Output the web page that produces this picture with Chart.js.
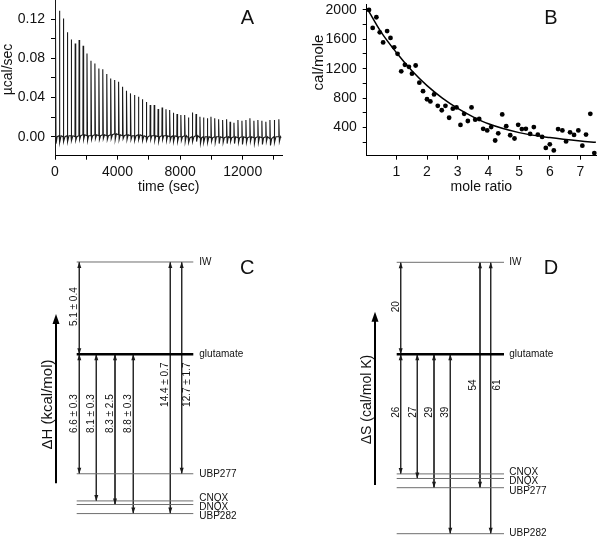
<!DOCTYPE html>
<html><head><meta charset="utf-8">
<script src="https://cdn.jsdelivr.net/npm/chart.js@4.4.1/dist/chart.umd.min.js"></script>
<style>
html,body{margin:0;padding:0;background:#fff;width:600px;height:537px;overflow:hidden;position:relative}
canvas{position:absolute;display:block}
</style></head><body>
<canvas id="cA" width="300" height="200" style="left:0;top:0;width:300px;height:200px"></canvas>
<canvas id="cB" width="300" height="200" style="left:300px;top:0;width:300px;height:200px"></canvas>
<canvas id="cC" width="300" height="297" style="left:0;top:240px;width:300px;height:297px"></canvas>
<canvas id="cD" width="300" height="297" style="left:300px;top:240px;width:300px;height:297px"></canvas>
<script>
// ---------------- Panel A : raw ITC trace ----------------
const aTraceStartValue = -0.019;
const aTraceEndTime = 14450;
const aTraceEndValue = -0.001;
const injTimes = [30,280,530,785,1035,1290,1540,1795,2045,2300,
  2550,2805,3055,3310,3560,3815,4065,4320,4570,4825,
  5075,5330,5580,5835,6085,6340,6590,6845,7095,7330,
  7560,7800,8045,8290,8525,8775,9015,9265,9490,9735,
  9970,10210,10460,10715,10970,11190,11440,11695,11950,12205,
  12460,12715,12970,13225,13480,13740,14015,14310];
const injPeaks = [0.140,0.1286,0.1207,0.1065,0.0993,0.0952,0.0986,0.0929,0.0850,0.0776,
  0.0748,0.0697,0.0687,0.0639,0.0595,0.0578,0.0561,0.0510,0.0469,0.0442,
  0.0425,0.0408,0.0381,0.0354,0.0323,0.0323,0.0282,0.0299,0.0279,0.0272,
  0.0245,0.0231,0.0221,0.0221,0.0197,0.0248,0.0231,0.0204,0.0197,0.0187,
  0.0204,0.0187,0.0177,0.0170,0.0177,0.0153,0.0143,0.0170,0.0163,0.0170,
  0.0187,0.0163,0.0170,0.0163,0.0153,0.0170,0.0170,0.0177];
const injTroughs = [-0.007,-0.006,-0.005,-0.005,-0.004,-0.004,-0.003,-0.003,-0.004,-0.003,
  -0.002,-0.003,-0.002,-0.003,-0.002,-0.003,-0.003,-0.002,-0.003,-0.003,
  -0.004,-0.003,-0.004,-0.004,-0.003,-0.004,-0.005,-0.003,-0.004,-0.004,
  -0.005,-0.005,-0.004,-0.005,-0.006,-0.005,-0.005,-0.007,-0.006,-0.006,
  -0.005,-0.006,-0.007,-0.006,-0.007,-0.005,-0.007,-0.006,-0.008,-0.006,
  -0.005,-0.007,-0.006,-0.008,-0.005,-0.009,-0.006,-0.005];
const injBaseline = [0.000,0.001,0.000,0.001,0.001,0.000,0.001,0.002,0.001,0.001,
  0.002,0.001,0.002,0.001,0.002,0.003,0.002,0.001,0.002,0.001,
  0.001,0.002,0.001,0.000,0.001,0.001,0.000,0.001,0.001,0.000,
  0.001,0.000,0.000,0.001,-0.001,0.000,0.001,-0.001,0.000,0.000,
  -0.001,0.000,0.000,-0.001,0.000,-0.001,0.000,-0.001,0.000,-0.001,
  0.000,-0.001,0.000,-0.001,0.000,-0.002,0.000,0.000];
const aXTicks = [0,2000,4000,6000,8000,10000,12000,14000];
const aXTickLabels = ['0','','4000','','8000','','12000',''];
const aYTicks = [0,0.02,0.04,0.06,0.08,0.10,0.12];
const aYTickLabels = ['0.00','','0.04','','0.08','','0.12'];

// ---------------- Panel B : integrated heats ----------------
const bMoleRatio = [0.11,0.23,0.35,0.46,0.57,0.70,0.81,0.93,1.04,1.16,
  1.28,1.41,1.51,1.63,1.75,1.87,2.00,2.11,2.23,2.35,
  2.48,2.60,2.72,2.84,2.96,3.09,3.21,3.33,3.45,3.57,
  3.70,3.83,3.96,4.09,4.22,4.32,4.45,4.58,4.71,4.85,
  4.97,5.09,5.22,5.36,5.48,5.61,5.75,5.87,6.00,6.13,
  6.27,6.41,6.53,6.66,6.79,6.93,7.06,7.18,7.32,7.45];
const bHeat = [2000,1755,1900,1694,1557,1711,1619,1490,1402,1164,
  1252,1225,1132,1243,1009,894,784,754,850,695,
  634,695,532,656,673,435,585,488,673,506,
  515,382,360,405,223,321,577,418,294,250,
  436,378,382,312,405,303,272,122,171,87,
  378,360,210,334,299,360,152,303,585,52];
const bFitX = [0.09,0.5,1,1.5,2,2.5,3,3.5,4,5,6,7,7.5];
const bFitY = [1990,1700,1420,1175,970,800,660,545,450,330,262,215,198];
const bXTicks = [1,2,3,4,5,6,7];
const bXTickLabels = ['1','2','3','4','5','6','7'];
const bYTicks = [200,400,600,800,1000,1200,1400,1600,1800,2000];
const bYTickLabels = ['','400','','800','','1200','','1600','','2000'];

// ---------------- Panel C : enthalpy levels (kcal/mol) ----------------
const cLevelNames = ['IW','glutamate','UBP277','CNQX','DNQX','UBP282'];
const cLevelValues = [5.1,0,-6.6,-8.1,-8.3,-8.8];
const cArrowFrom = ['IW','glutamate','glutamate','glutamate','glutamate','IW','IW'];
const cArrowTo = ['glutamate','UBP277','CNQX','DNQX','UBP282','UBP282','UBP277'];
const cArrowLabels = ['5.1 ± 0.4','6.6 ± 0.3','8.1 ± 0.3','8.3 ± 2.5','8.8 ± 0.3','14.4 ± 0.7','12.7 ± 1.7'];

// ---------------- Panel D : entropy levels (cal/mol K) ----------------
const dLevelNames = ['IW','glutamate','CNQX','DNQX','UBP277','UBP282'];
const dLevelValues = [20,0,-26,-27,-29,-39];
const dArrowFrom = ['IW','glutamate','glutamate','glutamate','glutamate','IW','IW'];
const dArrowTo = ['glutamate','CNQX','DNQX','UBP277','UBP282','UBP277','UBP282'];
const dArrowLabels = ['20','26','27','29','39','54','61'];

// ---------------- layout / style ----------------
const FONT = "'Liberation Sans', Arial, Helvetica, sans-serif";
const TXT = '#111';
Chart.defaults.font.family = FONT;
Chart.defaults.color = TXT;

function fixW(w){ return s => { s.width = w; s.paddingTop = 0; s.paddingBottom = 0; s.paddingLeft = 0; s.paddingRight = 0; }; }
function fixH(h){ return s => { s.height = h; s.paddingTop = 0; s.paddingBottom = 0; s.paddingLeft = 0; s.paddingRight = 0; }; }
function setTicks(vals){ return s => { s.ticks = vals.map(v => ({value: v})); }; }

function axisCfg(o){
  return {
    type: 'linear', min: o.min, max: o.max,
    afterBuildTicks: setTicks(o.ticks),
    afterFit: o.w ? fixW(o.w) : fixH(o.h),
    border: {display: true, color: '#000', width: 1},
    grid: {display: true, drawOnChartArea: false, drawTicks: true, tickLength: 4, color: '#000', lineWidth: 1},
    ticks: {autoSkip: false, maxRotation: 0, padding: o.pad, color: TXT, font: {size: 14, family: FONT},
            callback: (v, i) => o.labels[i]},
    title: o.title ? {display: true, text: o.title, color: TXT, font: {size: 14, family: FONT}, padding: {top: 0, bottom: o.titlePad}} : {display: false}
  };
}

function textPlugin(items){
  return { id: 'txt' + Math.random().toString(36).slice(2), afterDraw(chart){
    const ctx = chart.ctx;
    items.forEach(t => {
      ctx.save();
      ctx.fillStyle = TXT;
      ctx.font = t.size + 'px ' + FONT;
      ctx.textAlign = 'center';
      ctx.textBaseline = t.base || 'middle';
      ctx.translate(t.x, t.y);
      if (t.rot) ctx.rotate(t.rot);
      ctx.fillText(t.text, 0, 0);
      ctx.restore();
    });
  }};
}

// ---- Chart A ----
const traceA = [{x: 0, y: aTraceStartValue}];
injTimes.forEach((t, i) => {
  traceA.push({x: t - 12, y: injBaseline[i]});
  traceA.push({x: t, y: injPeaks[i]});
  traceA.push({x: t + 35, y: injTroughs[i]});
  traceA.push({x: t + 110, y: injBaseline[i]});
});
traceA.push({x: aTraceEndTime, y: aTraceEndValue});

new Chart(document.getElementById('cA'), {
  type: 'scatter',
  data: {datasets: [{data: traceA, showLine: true, borderColor: '#1a1a1a', borderWidth: 1.1, pointRadius: 0, tension: 0}]},
  options: {
    responsive: false, animation: false, devicePixelRatio: 1,
    layout: {padding: {left: 0, top: 0, right: 17.4, bottom: 0}},
    plugins: {legend: {display: false}, tooltip: {enabled: false}},
    scales: {
      x: axisCfg({min: 0, max: 14550, ticks: aXTicks, labels: aXTickLabels, h: 44.3, pad: 4, title: 'time (sec)', titlePad: 4.9}),
      y: axisCfg({min: -0.0194, max: 0.1395, ticks: aYTicks, labels: aYTickLabels, w: 55, pad: 6})
    }
  },
  plugins: [textPlugin([
    {text: 'µcal/sec', x: 8.5, y: 69.5, size: 14, rot: -Math.PI/2},
    {text: 'A', x: 247.5, y: 23.5, size: 20, base: 'alphabetic'}
  ])]
});

// ---- Chart B ----
new Chart(document.getElementById('cB'), {
  type: 'scatter',
  data: {datasets: [
    {data: bMoleRatio.map((x, i) => ({x, y: bHeat[i]})), pointRadius: 2.4, pointBackgroundColor: '#000', pointBorderWidth: 0, showLine: false, clip: false},
    {data: bFitX.map((x, i) => ({x, y: bFitY[i]})), showLine: true, borderColor: '#000', borderWidth: 1.5, pointRadius: 0, cubicInterpolationMode: 'monotone'}
  ]},
  options: {
    responsive: false, animation: false, devicePixelRatio: 1,
    layout: {padding: {left: 0, top: 0, right: 1, bottom: 0}},
    plugins: {legend: {display: false}, tooltip: {enabled: false}},
    scales: {
      x: axisCfg({min: 0.035, max: 7.505, ticks: bXTicks, labels: bXTickLabels, h: 44.3, pad: 4, title: 'mole ratio', titlePad: 4.9}),
      y: axisCfg({min: 15.9, max: 2080, ticks: bYTicks, labels: bYTickLabels, w: 66.7, pad: 6})
    }
  },
  plugins: [textPlugin([
    {text: 'cal/mole', x: 18.7, y: 62.5, size: 15, rot: -Math.PI/2},
    {text: 'B', x: 251, y: 23.5, size: 20, base: 'alphabetic'}
  ])]
});

// ---- Level diagrams C & D ----
function levelChart(id, names, values, from, to, labels, L){
  const idx = n => names.indexOf(n);
  const datasets = [];
  names.forEach((n, i) => {
    datasets.push({data: [{x: L.lineX[0], y: values[i]}, {x: L.lineX[1], y: values[i]}],
      showLine: true, pointRadius: 0, borderColor: n === 'glutamate' ? '#000' : '#6e6e6e', borderWidth: n === 'glutamate' ? 2.5 : 1});
  });
  from.forEach((f, k) => {
    datasets.push({data: [{x: L.arrowX[k], y: values[idx(f)]}, {x: L.arrowX[k], y: values[idx(to[k])]}],
      showLine: true, pointRadius: 0, borderColor: '#2a2a2a', borderWidth: 1});
  });
  const plugin = {id: 'lv' + id, afterDatasetsDraw(chart){
    const ctx = chart.ctx, xs = chart.scales.x, ys = chart.scales.y;
    ctx.save();
    ctx.fillStyle = '#1a1a1a';
    // arrowheads
    from.forEach((f, k) => {
      const x = xs.getPixelForValue(L.arrowX[k]);
      const y1 = ys.getPixelForValue(values[idx(f)]);
      const y2 = ys.getPixelForValue(values[idx(to[k])]);
      [[y1, y2], [y2, y1]].forEach(([tip, other]) => {
        const dir = tip < other ? -1 : 1;
        ctx.beginPath();
        ctx.moveTo(x, tip);
        ctx.lineTo(x - 2, tip - dir * 6);
        ctx.lineTo(x + 2, tip - dir * 6);
        ctx.closePath();
        ctx.fill();
      });
    });
    // arrow labels
    ctx.fillStyle = TXT;
    ctx.font = '10px ' + FONT;
    ctx.textAlign = 'center';
    ctx.textBaseline = 'middle';
    labels.forEach((t, k) => {
      const x = xs.getPixelForValue(L.arrowX[k]) + L.labelDx[k];
      const y = ys.getPixelForValue(L.labelY[k]);
      ctx.save(); ctx.translate(x, y); ctx.rotate(-Math.PI/2); ctx.fillText(t, 0, 0); ctx.restore();
    });
    // level names
    ctx.textAlign = 'left';
    names.forEach((n, i) => {
      ctx.fillText(n, xs.getPixelForValue(L.nameX), ys.getPixelForValue(values[i]) + L.nameDy[i]);
    });
    // axis arrow
    ctx.strokeStyle = '#000'; ctx.fillStyle = '#000'; ctx.lineWidth = 2;
    ctx.beginPath(); ctx.moveTo(L.axX, L.axY0); ctx.lineTo(L.axX, L.axY1 + 8); ctx.stroke();
    ctx.beginPath(); ctx.moveTo(L.axX, L.axY1); ctx.lineTo(L.axX - 3.5, L.axY1 + 10); ctx.lineTo(L.axX + 3.5, L.axY1 + 10); ctx.closePath(); ctx.fill();
    ctx.fillStyle = TXT;
    ctx.textAlign = 'center';
    ctx.font = L.titleSize + 'px ' + FONT;
    ctx.save(); ctx.translate(L.titleX, L.titleY); ctx.rotate(-Math.PI/2); ctx.fillText(L.title, 0, 0); ctx.restore();
    ctx.font = '20px ' + FONT;
    ctx.textBaseline = 'alphabetic';
    ctx.fillText(L.letter, L.letterX, L.letterY);
    ctx.restore();
  }};
  new Chart(document.getElementById(id), {
    type: 'scatter',
    data: {datasets},
    options: {
      responsive: false, animation: false, devicePixelRatio: 1,
      layout: {padding: 0},
      plugins: {legend: {display: false}, tooltip: {enabled: false}},
      scales: {
        x: {type: 'linear', display: false, min: 0, max: 300},
        y: {type: 'linear', display: false, min: L.yMin, max: L.yMax}
      }
    },
    plugins: [plugin]
  });
}

levelChart('cC', cLevelNames, cLevelValues, cArrowFrom, cArrowTo, cArrowLabels, {
  yMin: -10.094, yMax: 6.315,
  lineX: [76.7, 193.3], nameX: 199.3,
  nameDy: [0, 0, 0, -2.6, 2.4, 3],
  arrowX: [79.3, 79.3, 96.3, 115, 133.3, 170.3, 181.7],
  labelDx: [-5.3, -5.3, -4.6, -5, -5, -5.3, 6],
  labelY: [2.63, -3.28, -3.28, -3.28, -3.28, -1.68, -1.68],
  axX: 56, axY0: 243.3, axY1: 74,
  title: 'ΔH (kcal/mol)', titleX: 48.3, titleY: 164.5, titleSize: 15,
  letter: 'C', letterX: 247.3, letterY: 33.5
});

levelChart('cD', dLevelNames, dLevelValues, dArrowFrom, dArrowTo, dArrowLabels, {
  yMin: -39.72, yMax: 24.85,
  lineX: [96.7, 204], nameX: 209.3,
  nameDy: [0, 0, -1.7, 2.7, 3.4, -0.6],
  arrowX: [100.7, 100.7, 117.3, 134, 150.3, 180, 190.7],
  labelDx: [-4.7, -4.7, -4, -4.7, -5, -6.7, 7],
  labelY: [10.35, -12.6, -12.6, -12.6, -12.6, -6.67, -6.67],
  axX: 75, axY0: 245, axY1: 71.7,
  title: 'ΔS (cal/mol K)', titleX: 67.5, titleY: 159.5, titleSize: 14,
  letter: 'D', letterX: 251, letterY: 33.5
});
</script>
</body></html>
